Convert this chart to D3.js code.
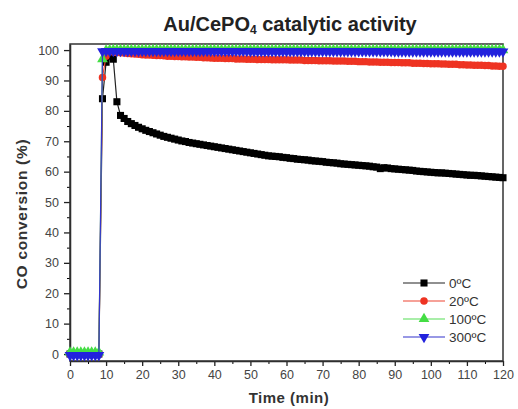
<!DOCTYPE html>
<html>
<head>
<meta charset="utf-8">
<script src="https://cdn.jsdelivr.net/npm/d3@7"></script>
<style>
  body { margin: 0; background: #fff; }
  text { font-family: "Liberation Sans", Arial, sans-serif; }
</style>
</head>
<body>
<div id="chart"></div>
<script>
// time in minutes, one reading per minute
var times = d3.range(0, 121, 1);

var black0 = [0,0,0,0,0,0,0,0,0,
  84,96,98,97,83,78.5,77.5,76.5,75.8,75.2,74.6,
  74.1,73.6,73.2,72.8,72.4,72.0,71.6,71.3,71.0,70.7,
  70.4,70.1,69.9,69.6,69.4,69.2,69.0,68.8,68.6,68.4,
  68.2,68.0,67.8,67.6,67.4,67.2,67.0,66.8,66.6,66.4,
  66.2,66.0,65.8,65.6,65.4,65.2,65.1,65.0,64.9,64.7,
  64.6,64.4,64.3,64.1,64.0,63.9,63.8,63.6,63.5,63.4,
  63.3,63.1,63.0,62.9,62.8,62.6,62.5,62.4,62.3,62.2,
  62.1,62.0,61.9,61.8,61.6,61.5,61.0,61.3,61.2,61.0,
  60.9,60.8,60.7,60.6,60.5,60.4,60.2,60.1,60.0,59.9,
  59.8,59.7,59.6,59.6,59.5,59.4,59.3,59.2,59.1,59.0,
  58.9,58.8,58.8,58.7,58.6,58.5,58.4,58.3,58.2,58.1,58.0];

var red20 = [0,0,0,0,0,0,0,0,0,
  91,98,99.5,99.4,99.2,99.1,99.0,98.9,98.8,98.7,98.6,
  98.5,98.4,98.4,98.3,98.2,98.2,98.1,98.0,98.0,97.9,
  97.9,97.8,97.8,97.7,97.7,97.6,97.6,97.5,97.5,97.4,
  97.3,97.3,97.3,97.2,97.2,97.2,97.1,97.1,97.1,97.0,
  97.0,97.0,96.9,96.9,96.9,96.9,96.8,96.8,96.8,96.8,
  96.8,96.7,96.7,96.7,96.7,96.6,96.6,96.6,96.6,96.5,
  96.5,96.5,96.5,96.4,96.4,96.4,96.4,96.3,96.3,96.3,
  96.2,96.2,96.2,96.1,96.1,96.1,96.0,96.0,96.0,95.9,
  95.9,95.9,95.8,95.8,95.8,95.7,95.7,95.7,95.6,95.6,
  95.5,95.5,95.5,95.4,95.4,95.3,95.3,95.3,95.2,95.2,
  95.1,95.1,95.0,95.0,95.0,94.9,94.9,94.8,94.8,94.7,94.7];

var green100 = [0.5,0.5,0.5,0.5,0.5,0.5,0.5,0.5,0.5,
  97,99.9,100,100,100,100,100,100,100,100,100,
  100,100,100,100,100,100,100,100,100,100,
  100,100,100,100,100,100,100,100,100,100,
  100,100,100,100,100,100,100,100,100,100,
  100,100,100,100,100,100,100,100,100,100,
  100,100,100,100,100,100,100,100,100,100,
  100,100,100,100,100,100,100,100,100,100,
  100,100,100,100,100,100,100,100,100,100,
  100,100,100,100,100,100,100,100,100,100,
  100,100,100,100,100,100,100,100,100,100,
  100,100,100,100,100,100,100,100,100,100,100];

var blue300 = [-0.4,-0.4,-0.4,-0.4,-0.4,-0.4,-0.4,-0.4,-0.4,
  99.6,99.7,99.7,99.7,99.7,99.7,99.7,99.7,99.7,99.7,99.7,
  99.7,99.7,99.7,99.7,99.7,99.7,99.7,99.7,99.7,99.7,
  99.7,99.7,99.7,99.7,99.7,99.7,99.7,99.7,99.7,99.7,
  99.7,99.7,99.7,99.7,99.7,99.7,99.7,99.7,99.7,99.7,
  99.6,99.6,99.6,99.6,99.6,99.6,99.6,99.6,99.6,99.6,
  99.6,99.6,99.6,99.6,99.6,99.6,99.6,99.6,99.6,99.6,
  99.6,99.6,99.6,99.6,99.6,99.6,99.6,99.6,99.6,99.6,
  99.6,99.6,99.6,99.6,99.6,99.6,99.6,99.6,99.6,99.6,
  99.5,99.5,99.5,99.5,99.5,99.5,99.5,99.5,99.5,99.5,
  99.5,99.5,99.5,99.5,99.5,99.5,99.5,99.5,99.5,99.5,
  99.5,99.5,99.5,99.5,99.5,99.5,99.5,99.5,99.5,99.5,99.5];

var seriesNames = ["0\u00baC", "20\u00baC", "100\u00baC", "300\u00baC"];
var seriesValues = [black0, red20, green100, blue300];
var seriesColors = ["#000000", "#ee3322", "#44dd44", "#2222dd"];
var seriesLines = ["#222222", "#ee4433", "#55dd55", "#3333cc"];
var seriesSymbols = ["square", "circle", "triangle", "down"];

var xTicks = d3.range(0, 121, 10);
var yTicks = d3.range(0, 101, 10);

var W = 518, H = 409;
var margin = { top: 44, right: 15, bottom: 48, left: 70 };
var width = W - margin.left - margin.right;
var height = H - margin.top - margin.bottom;

var svg = d3.select("#chart").append("svg")
    .attr("width", W)
    .attr("height", H);

var g = svg.append("g")
    .attr("transform", "translate(" + margin.left + "," + margin.top + ")");

var x = d3.scaleLinear().domain([0, 120]).range([0, width]);
var y = d3.scaleLinear().domain([-2.3, 102]).range([height, 0]);

// minor ticks
g.append("g")
    .attr("transform", "translate(0," + height + ")")
    .call(d3.axisBottom(x).tickValues(d3.range(5, 120, 10)).tickSize(3).tickFormat(""))
    .call(function(s) { s.select(".domain").remove(); });
g.append("g")
    .call(d3.axisLeft(y).tickValues(d3.range(5, 100, 10)).tickSize(3).tickFormat(""))
    .call(function(s) { s.select(".domain").remove(); });

// major axes
var xAxis = g.append("g")
    .attr("transform", "translate(0," + height + ")")
    .call(d3.axisBottom(x).tickValues(xTicks).tickSize(5).tickSizeOuter(0).tickPadding(4));
var yAxis = g.append("g")
    .call(d3.axisLeft(y).tickValues(yTicks).tickSize(6).tickSizeOuter(0).tickPadding(5));

[xAxis, yAxis].forEach(function(a) {
    a.selectAll("text").style("font-size", "12.5px").attr("fill", "#444");
    a.selectAll("line").attr("stroke", "#222").attr("stroke-width", 1.3);
    a.select(".domain").attr("stroke", "#222").attr("stroke-width", 1.5);
});

// frame
g.append("rect")
    .attr("width", width)
    .attr("height", height)
    .attr("fill", "none")
    .attr("stroke", "#333")
    .attr("stroke-width", 1.5);

function symbolFor(name, size) {
    if (name === "square") return d3.symbol().type(d3.symbolSquare).size(size)();
    if (name === "circle") return d3.symbol().type(d3.symbolCircle).size(size)();
    return d3.symbol().type(d3.symbolTriangle).size(size)();
}

var line = d3.line()
    .x(function(d) { return x(d[0]); })
    .y(function(d) { return y(d[1]); });

seriesValues.forEach(function(vals, k) {
    var pts = vals.map(function(v, i) { return [times[i], v]; });

    g.append("path")
        .datum(pts)
        .attr("fill", "none")
        .attr("stroke", seriesLines[k])
        .attr("stroke-width", 1.2)
        .attr("d", line);

    g.selectAll(".pt" + k)
        .data(pts)
        .enter()
        .append("path")
        .attr("class", "pt" + k)
        .attr("d", symbolFor(seriesSymbols[k], seriesSymbols[k] === "circle" ? 44 : 50))
        .attr("transform", function(d) {
            var r = seriesSymbols[k] === "down" ? " rotate(180)" : "";
            return "translate(" + x(d[0]) + "," + y(d[1]) + ")" + r;
        })
        .attr("fill", seriesColors[k]);
});

// title
var title = svg.append("text")
    .attr("x", 290)
    .attr("y", 31)
    .attr("text-anchor", "middle")
    .style("font-size", "20px")
    .style("font-weight", "bold")
    .attr("fill", "#222");
title.append("tspan").text("Au/CePO");
title.append("tspan").attr("dy", 3).style("font-size", "12px").text("4");
title.append("tspan").attr("dy", -3).text(" catalytic activity");

// axis labels
svg.append("text")
    .attr("x", 289)
    .attr("y", 403)
    .attr("text-anchor", "middle")
    .style("font-size", "15px")
    .style("font-weight", "bold")
    .style("letter-spacing", "0.5px")
    .attr("fill", "#333")
    .text("Time (min)");

svg.append("text")
    .attr("transform", "rotate(-90)")
    .attr("x", -214)
    .attr("y", 27)
    .attr("text-anchor", "middle")
    .style("font-size", "15.5px")
    .style("font-weight", "bold")
    .style("letter-spacing", "0.7px")
    .attr("fill", "#333")
    .text("CO conversion (%)");

// legend
var legend = svg.append("g").attr("transform", "translate(403,283)");
seriesNames.forEach(function(name, k) {
    var row = legend.append("g").attr("transform", "translate(0," + (k * 18) + ")");
    row.append("line")
        .attr("x1", 0).attr("x2", 42)
        .attr("stroke", seriesLines[k])
        .attr("stroke-width", 1.2);
    row.append("path")
        .attr("d", symbolFor(seriesSymbols[k], seriesSymbols[k] === "circle" ? 44 : 50))
        .attr("transform", "translate(21,0)" + (seriesSymbols[k] === "down" ? " rotate(180)" : ""))
        .attr("fill", seriesColors[k]);
    row.append("text")
        .attr("x", 46)
        .attr("dy", "0.35em")
        .style("font-size", "13.5px")
        .attr("fill", "#333")
        .text(name);
});
</script>
</body>
</html>
